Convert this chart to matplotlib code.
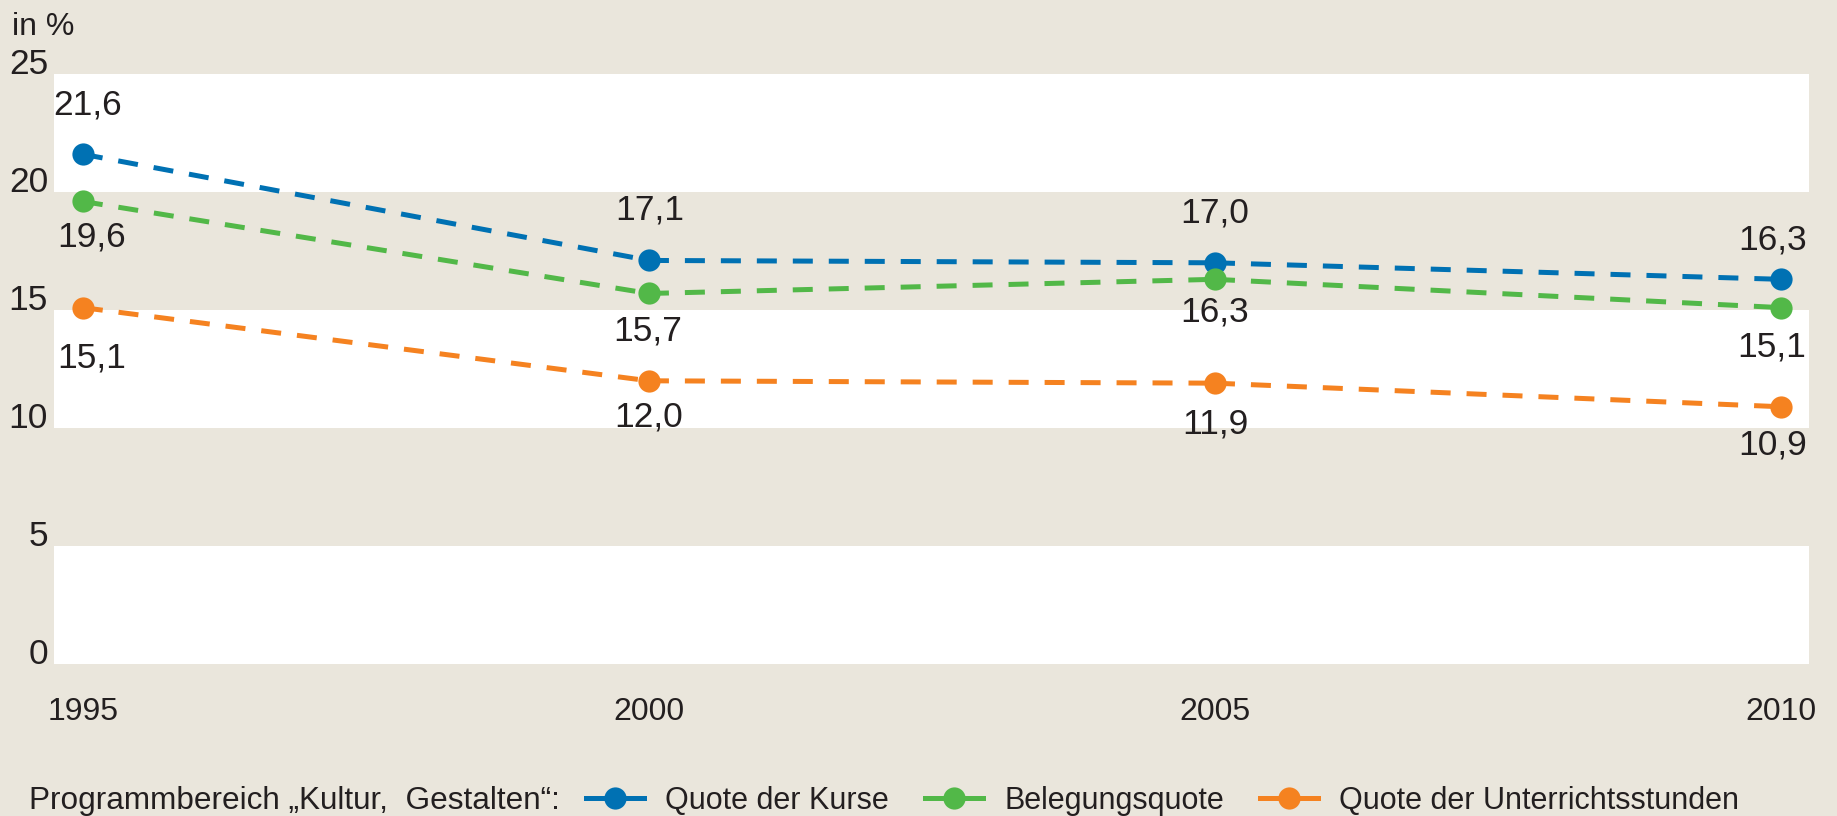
import matplotlib
matplotlib.use("Agg")
import matplotlib.pyplot as plt
from matplotlib.lines import Line2D

plt.rcParams['font.family'] = ['Liberation Sans', 'DejaVu Sans']
plt.rcParams['lines.scale_dashes'] = False

# ---- data ----
years = [1995, 2000, 2005, 2010]
kurse = [21.6, 17.1, 17.0, 16.3]
belegung = [19.6, 15.7, 16.3, 15.1]
stunden = [15.1, 12.0, 11.9, 10.9]
series_names = ["Quote der Kurse", "Belegungsquote", "Quote der Unterrichtsstunden"]
yticks = [0, 5, 10, 15, 20, 25]
legend_prefix = "Programmbereich \u201eKultur,  Gestalten\u201c:"
unit_label = "in %"

# ---- style ----
BG = "#EAE6DC"
TXT = "#231F20"
colors = ["#0071B3", "#52B848", "#F58220"]
# label offsets in pixels (dx, dy) per series / point
offsets = [
    [(5, 49), (1, 50), (0, 50), (-8, 39)],
    [(9, -36), (-1, -38), (0, -33), (-9, -39)],
    [(9, -50), (0, -36), (0, -41), (-8, -38)],
]

fig = plt.figure(figsize=(18.37, 8.16), dpi=100, facecolor=BG)
W, H = 1837, 816
ax = fig.add_axes([54 / W, 1 - 664 / H, (1809 - 54) / W, (664 - 74) / H])
ax.set_facecolor(BG)
ax.set_xlim(1994.745, 2010.247)
ax.set_ylim(0, 25)

for lo in (0, 10, 20):
    ax.axhspan(lo, lo + 5, color="white", lw=0, zorder=0)

for vals, col, offs in zip([kurse, belegung, stunden], colors, offsets):
    for i in range(len(years) - 1):
        ax.plot(years[i:i + 2], vals[i:i + 2], color=col, lw=3.6,
                dashes=(14.4, 11.5), dash_capstyle='butt', zorder=2)
    ax.plot(years, vals, ls='none', marker='o', ms=16, color=col,
            markeredgewidth=0, zorder=3)
    for x, v, (dx, dy) in zip(years, vals, offs):
        ax.annotate(f"{v:.1f}".replace(".", ","), (x, v), xytext=(dx, dy),
                    textcoords='offset pixels', ha='center', va='center',
                    fontsize=25.5, color=TXT, zorder=4)

for s in ax.spines.values():
    s.set_visible(False)
ax.set_xticks(years)
ax.set_xticklabels([str(y) for y in years])
ax.set_yticks(yticks)
ax.set_yticklabels([str(t) for t in yticks])
ax.tick_params(axis='both', length=0, labelcolor=TXT)
ax.tick_params(axis='x', pad=24, labelsize=23)
ax.tick_params(axis='y', pad=4.3, labelsize=25.5)
for lab in ax.get_yticklabels():
    lab.set_verticalalignment('baseline')

fig.text(12 / W, 1 - 35 / H, unit_label, fontsize=23, color=TXT,
         ha='left', va='baseline')

handles = [Line2D([], [], color=c, lw=3.6, marker='o', ms=16,
                  markeredgewidth=0) for c in colors]
fig.legend(handles, series_names, loc='center left',
           bbox_to_anchor=(586 / W, 1 - 801 / H), ncol=3, frameon=False,
           fontsize=22, handlelength=1.9, handletextpad=0.69,
           columnspacing=1.18, borderpad=0, borderaxespad=0,
           labelcolor=TXT, numpoints=1)
fig.text(29 / W, 1 - 801 / H, legend_prefix, fontsize=22.7, color=TXT,
         ha='left', va='center')

fig.savefig("out.png", dpi=100, facecolor=BG)
